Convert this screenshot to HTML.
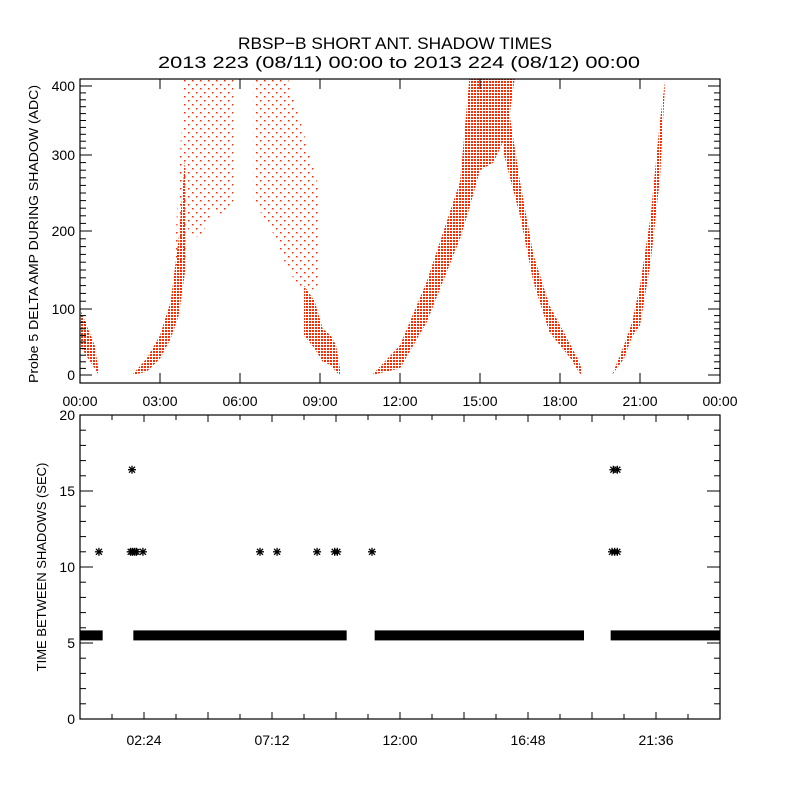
<!DOCTYPE html>
<html><head><meta charset="utf-8">
<style>
html,body{margin:0;padding:0;background:#fff;}
svg{display:block;font-family:"Liberation Sans",sans-serif;}
</style></head>
<body>
<svg id="chart" width="800" height="800" viewBox="0 0 800 800" xmlns="http://www.w3.org/2000/svg">
<defs>
<pattern id="sparse" width="8" height="8" patternUnits="userSpaceOnUse">
<rect x="0" y="0" width="1.5" height="1.5" fill="#ff2a00"/>
<rect x="4" y="4" width="1.5" height="1.5" fill="#ff2a00"/>
</pattern>
<pattern id="dense" width="3" height="3" patternUnits="userSpaceOnUse">
<rect x="0" y="0" width="2" height="2" fill="#ff2a00"/>
</pattern>
</defs>
<rect width="800" height="800" fill="#fff"/>
<text x="238" y="49" font-size="17" textLength="314" lengthAdjust="spacingAndGlyphs">RBSP−B SHORT ANT. SHADOW TIMES</text>
<text x="158" y="68" font-size="17" textLength="482" lengthAdjust="spacingAndGlyphs">2013 223 (08/11) 00:00 to 2013 224 (08/12) 00:00</text>
<g id="topPanel"></g>
<g id="botPanel"></g>
</svg>
<script>
// ---- Top panel data: amplitude bands (hours, lower/upper ADC) ----
const arc1T=[0,0.3,0.55,0.7];
const arc1Lo=[45,25,10,0];
const arc1Hi=[100,70,45,5];
const arc2T=[1.95,2.5,3.0,3.4,3.7,3.95];
const arc2Lo=[0,5,25,55,90,150];
const arc2Hi=[0,25,60,110,190,300];
const sparse0T=[3.6,3.9,4.2];
const sparse0Lo=[150,150,240];
const sparse0Hi=[200,410,410];
const sparse1T=[4.1,4.5,5.0,5.4,5.75];
const sparse1Lo=[200,190,230,220,240];
const sparse1Hi=[410,410,410,410,410];
const sparse2T=[6.5,7.2,7.8,8.4,9.0];
const sparse2Lo=[240,200,150,120,130];
const sparse2Hi=[410,410,410,330,250];
const arc3T=[8.4,8.8,9.1,9.4,9.6,9.75];
const arc3Lo=[60,40,20,15,5,0];
const arc3Hi=[130,110,70,60,45,10];
const arc4T=[10.95,12.0,13.0,14.25,14.6,15.0,15.5,16.0,16.3];
const arc4Lo=[0,10,80,190,230,280,290,330,410];
const arc4Hi=[0,45,135,265,410,410,410,410,410];
const arc5T=[15.9,16.5,17.0,17.6,18.4,18.7,18.8];
const arc5Lo=[300,220,135,65,25,5,0];
const arc5Hi=[410,265,170,105,45,22,10];
const arc6T=[19.95,20.4,20.7,21.0,21.4,21.75,21.95];
const arc6Lo=[0,25,58,75,160,270,410];
const arc6Hi=[0,45,80,130,220,350,410];
const topTickVals=[0,100,200,300,400];
const topXLabels=["00:00","03:00","06:00","09:00","12:00","15:00","18:00","21:00","00:00"];

// ---- Bottom panel data ----
const bandStart=[0,2.0,11.05,19.9];
const bandEnd=[0.85,10.0,18.9,24.0];
const bandValue=[5.5,5.5,5.5,5.5];
const starT=[0.71,1.9,1.97,2.05,2.12,2.36,1.95,6.75,7.39,8.89,9.55,9.65,10.95,19.95,20.05,20.15,20.0,20.15];
const starV=[11,11,11,11,11,11,16.4,11,11,11,11,11,11,11,11,11,16.4,16.4];
const botXLabels=["02:24","07:12","12:00","16:48","21:36"];
const botTickVals=[0,5,10,15,20];

const NS="http://www.w3.org/2000/svg";
function mk(tag,attrs,parent){const e=document.createElementNS(NS,tag);for(const k in attrs)e.setAttribute(k,attrs[k]);parent.appendChild(e);return e;}

const L=80,R=720,TT=79,TB=383;
function xT(h){return L+(h/24)*(R-L);}
const pv=[0,100,200,300,400,410],py=[375,309,231,155,86,79];
function yT(v){v=Math.max(0,Math.min(410,v));for(let i=0;i<pv.length-1;i++){if(v<=pv[i+1]){return py[i]+(v-pv[i])/(pv[i+1]-pv[i])*(py[i+1]-py[i]);}}return 79;}
const topG=document.getElementById('topPanel');
function band(T,Lo,Hi,fill,name){
  let pts=[];
  for(let i=0;i<T.length;i++)pts.push(xT(T[i])+','+yT(Hi[i]));
  for(let i=T.length-1;i>=0;i--)pts.push(xT(T[i])+','+yT(Lo[i]));
  const p=mk('polygon',{points:pts.join(' '),fill:fill},topG);
  
  
}
band(sparse0T,sparse0Lo,sparse0Hi,'url(#sparse)','sparse-region-0');
band(sparse1T,sparse1Lo,sparse1Hi,'url(#sparse)','sparse-region-1');
band(sparse2T,sparse2Lo,sparse2Hi,'url(#sparse)','sparse-region-2');
band(arc1T,arc1Lo,arc1Hi,'url(#dense)','arc-1');
band(arc2T,arc2Lo,arc2Hi,'url(#dense)','arc-2');
band(arc3T,arc3Lo,arc3Hi,'url(#dense)','arc-3');
band(arc4T,arc4Lo,arc4Hi,'url(#dense)','arc-4');
band(arc5T,arc5Lo,arc5Hi,'url(#dense)','arc-5');
band(arc6T,arc6Lo,arc6Hi,'url(#dense)','arc-6');

const tf=mk('rect',{x:L,y:TT,width:R-L,height:TB-TT,fill:'none',stroke:'#000','stroke-width':1.2},topG);


for(let v=0;v<=410;v+=10){
  const y=yT(v);const len=(v%100===0)?12:6;
  mk('line',{x1:L,y1:y,x2:L+len,y2:y,stroke:'#000'},topG);
  mk('line',{x1:R,y1:y,x2:R-len,y2:y,stroke:'#000'},topG);
}
topTickVals.forEach(v=>{const t=mk('text',{x:L-5,y:yT(v)+5,'font-size':14,'text-anchor':'end'},topG);t.textContent=v;

});
topXLabels.forEach((s,i)=>{const x=xT(i*3);
mk('line',{x1:x,y1:TB,x2:x,y2:TB-10,stroke:'#000'},topG);
mk('line',{x1:x,y1:TT,x2:x,y2:TT+10,stroke:'#000'},topG);
const t=mk('text',{x:x,y:406,'font-size':14,'text-anchor':'middle'},topG);t.textContent=s;

});
const ty=mk('text',{x:-149,y:0,'font-size':13,textLength:298,lengthAdjust:'spacingAndGlyphs',transform:'translate(38,234) rotate(-90)'},topG);
ty.textContent='Probe 5 DELTA AMP DURING SHADOW (ADC)';



const BT=415,BB=719;
function yB(v){return BB-(v/20)*(BB-BT);}
const botG=document.getElementById('botPanel');
for(let i=0;i<bandStart.length;i++){
  const r=mk('rect',{x:xT(bandStart[i]),y:yB(bandValue[i])-5,width:xT(bandEnd[i])-xT(bandStart[i]),height:10,fill:'#000'},botG);
  
  
}
for(let i=0;i<starT.length;i++){
  const x=xT(starT[i]),y=yB(starV[i]);
  const g=mk('g',{stroke:'#000','stroke-width':1.3},botG);
  
  
  mk('line',{x1:x-4,y1:y,x2:x+4,y2:y},g);
  mk('line',{x1:x,y1:y-4,x2:x,y2:y+4},g);
  mk('line',{x1:x-3,y1:y-3,x2:x+3,y2:y+3},g);
  mk('line',{x1:x-3,y1:y+3,x2:x+3,y2:y-3},g);
}
const bf=mk('rect',{x:L,y:BT,width:R-L,height:BB-BT,fill:'none',stroke:'#000','stroke-width':1.2},botG);


for(let v=0;v<=20;v++){const y=yB(v);const len=(v%5===0)?13:6;
mk('line',{x1:L,y1:y,x2:L+len,y2:y,stroke:'#000'},botG);
mk('line',{x1:R,y1:y,x2:R-len,y2:y,stroke:'#000'},botG);}
for(let k=1;k<20;k++){const x=xT(k*1.2);const len=(k%2===0)?7:5;
mk('line',{x1:x,y1:BB,x2:x,y2:BB-len,stroke:'#000'},botG);
mk('line',{x1:x,y1:BT,x2:x,y2:BT+len,stroke:'#000'},botG);}
botTickVals.forEach(v=>{const t=mk('text',{x:L-5,y:yB(v)+5,'font-size':14,'text-anchor':'end'},botG);t.textContent=v;

});
botXLabels.forEach((s,i)=>{const t=mk('text',{x:xT(2.4+i*4.8),y:745,'font-size':14,'text-anchor':'middle'},botG);t.textContent=s;

});
const by=mk('text',{x:0,y:0,'font-size':13,'text-anchor':'middle',transform:'translate(46,567) rotate(-90)'},botG);
by.textContent='TIME BETWEEN SHADOWS (SEC)';


</script>
</body></html>
